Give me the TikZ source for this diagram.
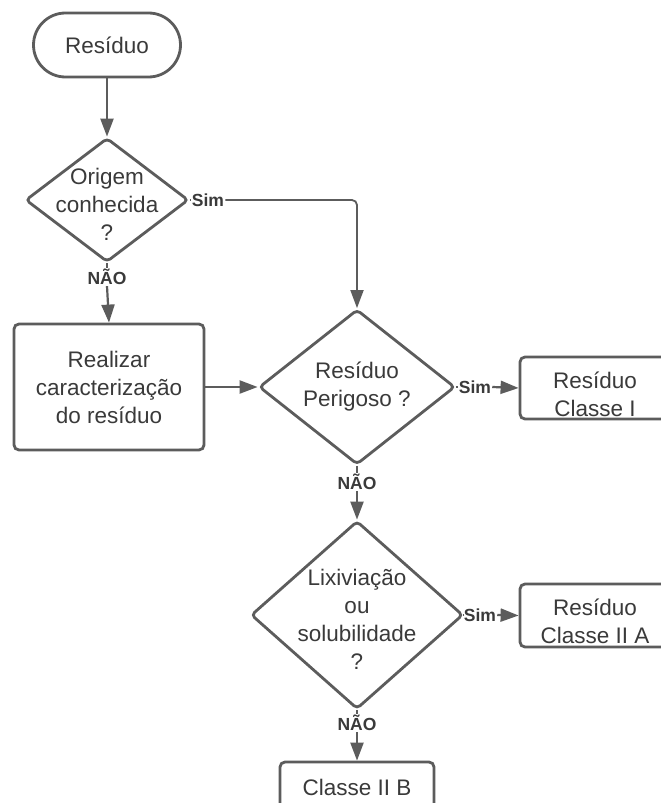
\documentclass[tikz,border=0pt]{standalone}
\usepackage{fontspec}
\setmainfont{Liberation Sans}
\usetikzlibrary{shapes.geometric,arrows.meta}
\definecolor{lc}{HTML}{5C5C5C}
\definecolor{tc}{HTML}{3A3A3A}
\begin{document}
\begin{tikzpicture}[x=1pt,y=-1pt,
 every node/.style={text=tc},
 txt/.style={font=\fontsize{22.5}{28}\selectfont, align=center},
 shp/.style={draw=lc, line width=2.8pt},
 dia/.style={shp, diamond, inner sep=0pt, rounded corners=4pt},
 box/.style={shp, rectangle, rounded corners=5pt, inner sep=0pt},
 lab/.style={font=\fontsize{17.5}{20}\selectfont\bfseries, inner sep=1pt},
 conn/.style={draw=lc, line width=2.2pt},
 arr/.style={conn, -{Triangle[length=18pt,width=13pt]}},
]
\useasboundingbox (0,0) rectangle (661,803);
\clip (0,0) rectangle (661,803);
\fill[white] (0,0) rectangle (661,803);

\node[box, rounded corners=32pt, minimum width=147pt, minimum height=64pt, txt] (start) at (107,45) {Resíduo};
\node[dia, minimum width=163pt, minimum height=124pt, label={[txt,yshift=-4pt]center:{Origem\\conhecida\\?}}] (d1) at (107,200) {};
\node[box, minimum width=190pt, minimum height=126pt, txt] (real) at (109,387) {Realizar\\caracterização\\do resíduo};
\node[dia, minimum width=196pt, minimum height=155pt, label={[txt]center:{Resíduo\\Perigoso ?}}] (d2) at (357,387) {};
\node[box, minimum width=150pt, minimum height=62pt, label={[txt,yshift=-6pt]center:{Resíduo\\Classe I}}] (c1) at (595,388) {};
\node[dia, minimum width=212pt, minimum height=188pt, label={[txt,yshift=-4pt]center:{Lixiviação\\ou\\solubilidade\\?}}] (d3) at (357,615) {};
\node[box, minimum width=150pt, minimum height=63pt, label={[txt,yshift=-6pt]center:{Resíduo\\Classe II A}}] (c2) at (595,615.5) {};
\node[box, minimum width=154pt, minimum height=50pt, txt] (c3) at (357,787) {Classe II B};

\node[lab] (s1) at (208,200) {Sim};
\node[lab] (n1) at (107,277) {NÃO};
\node[lab] (s2) at (475,387) {Sim};
\node[lab] (n2) at (357,482) {NÃO};
\node[lab] (s3) at (480,615) {Sim};
\node[lab] (n3) at (357,723) {NÃO};

\draw[arr] (start.south) -- (d1.north);
\draw[conn] (d1.east) -- (s1.west);
\draw[arr, line width=1.8pt, rounded corners=5pt] (s1.east) -| (d2.north);
\draw[conn] (d1.south) -- (n1.north);
\draw[arr] (n1.south) -- (real.north);
\draw[arr] (real.east) -- (d2.west);
\draw[conn] (d2.east) -- (s2.west);
\draw[arr] (s2.east) -- (c1.west);
\draw[conn] (d2.south) -- (n2.north);
\draw[arr] (n2.south) -- (d3.north);
\draw[conn] (d3.east) -- (s3.west);
\draw[arr] (s3.east) -- (c2.west);
\draw[conn] (d3.south) -- (n3.north);
\draw[arr] (n3.south) -- (c3.north);
\end{tikzpicture}
\end{document}
